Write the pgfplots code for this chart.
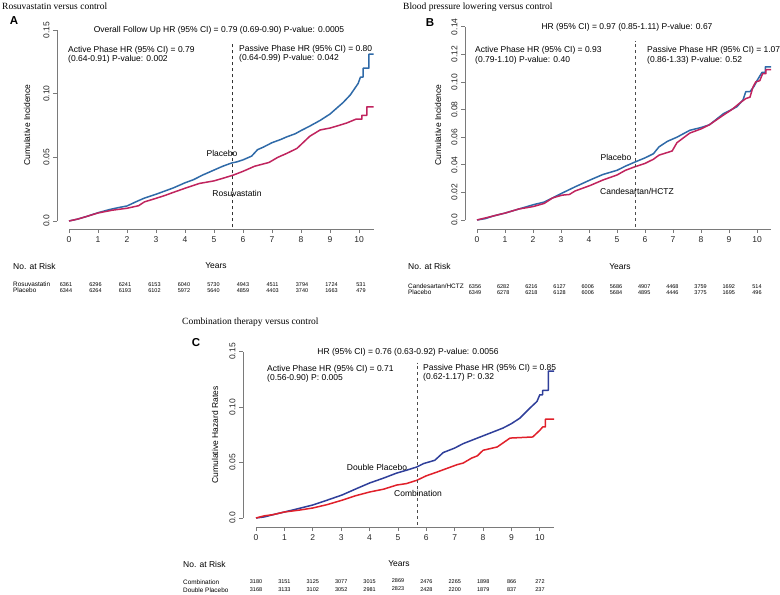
\documentclass[border=0pt]{standalone}
\usepackage{fontspec}
\setmainfont{Liberation Sans}
\newfontfamily\seriffont{Liberation Serif}
\usepackage{pgfplots}
\pgfplotsset{compat=1.18}
\definecolor{ablue}{HTML}{2F6AA8}
\definecolor{ared}{HTML}{C0245E}
\definecolor{cblue}{HTML}{2F3F9A}
\definecolor{cred}{HTML}{E0202A}
\definecolor{axgray}{HTML}{7A7A7A}
\newcommand{\ann}{\fontsize{8.5}{10}\selectfont}
\newcommand{\tabf}{\fontsize{5.5}{6.5}\selectfont}
\newcommand{\tabl}{\fontsize{6.4}{7}\selectfont}
\newcommand{\ttl}{\seriffont\fontsize{9.5}{11}\selectfont}
\pgfplotsset{
  km/.style={
    scale only axis, xmin=0, xmax=10.5, ymin=0,
    axis lines*=left,
    axis line style={axgray, line width=0.7pt},
    tick style={axgray, line width=0.7pt},
    tick align=outside, major tick length=4pt,
    xtick={0,1,...,10},
    ticklabel style={font=\fontsize{8.5}{10}\selectfont, text=black!85},
    /pgf/number format/assume math mode=true,
    yticklabel style={rotate=90, anchor=south},
    clip=false,
  },
  curve/.style={line width=1.5pt, line join=round},
}
\begin{document}
\begin{tikzpicture}[x=1pt,y=1pt]
\useasboundingbox (0,0) rectangle (780,595);
% ---------------- Panel A
\begin{axis}[km, at={(69pt,374pt)}, anchor=south west, width=304.5pt, height=191pt, ymax=0.15,
  ytick={0,0.05,0.10,0.15}, yticklabels={0.0,0.05,0.10,0.15},
  axis x line shift=8pt, axis y line shift=12pt]
\addplot[curve, ablue] coordinates {
(0,0) (0.3,0.0015) (0.6,0.0035) (1.0,0.0065) (1.4,0.009) (1.7,0.0105) (2.0,0.0118) (2.3,0.015) (2.6,0.018) (3.0,0.021) (3.3,0.0235) (3.6,0.026) (4.0,0.030) (4.3,0.0325) (4.6,0.036) (5.0,0.040) (5.3,0.043) (5.6,0.0455) (5.8,0.0465) (6.0,0.048) (6.3,0.051) (6.5,0.056) (6.7,0.058) (7.0,0.0615) (7.3,0.064) (7.5,0.066) (7.8,0.0685) (8.0,0.071) (8.3,0.0745) (8.66,0.079) (9.0,0.084) (9.2,0.088) (9.45,0.093) (9.7,0.099) (9.97,0.108) (10.05,0.113) (10.14,0.113) (10.14,0.120) (10.34,0.120) (10.34,0.131) (10.5,0.131)};
\addplot[curve, ared] coordinates {
(0,0) (0.3,0.0015) (0.6,0.0035) (1.0,0.0063) (1.5,0.0085) (2.0,0.010) (2.4,0.012) (2.6,0.015) (3.0,0.0178) (3.3,0.020) (3.6,0.0225) (4.0,0.0257) (4.5,0.0295) (5.0,0.0315) (5.3,0.0335) (5.66,0.036) (6.0,0.039) (6.4,0.043) (6.9,0.046) (7.2,0.050) (7.5,0.053) (7.86,0.057) (8.0,0.060) (8.3,0.0665) (8.66,0.0715) (9.0,0.073) (9.3,0.075) (9.58,0.077) (9.9,0.080) (10.1,0.080) (10.1,0.083) (10.27,0.083) (10.27,0.0896) (10.5,0.0896)};
\addplot[black!80, dashed, line width=0.6pt] coordinates {(5.62,-0.005) (5.62,0.141)};
\end{axis}
% ---------------- Panel B
\begin{axis}[km, at={(477pt,375pt)}, anchor=south west, width=294pt, height=193.2pt, ymax=0.14,
  ytick={0,0.02,0.04,0.06,0.08,0.10,0.12,0.14}, yticklabels={0.0,0.02,0.04,0.06,0.08,0.10,0.12,0.14},
  axis x line shift=9pt, axis y line shift=12pt]
\addplot[curve, ablue] coordinates {
(0,0) (0.3,0.001) (0.6,0.003) (1.0,0.005) (1.5,0.008) (2.0,0.011) (2.4,0.013) (2.7,0.016) (3.04,0.0195) (3.5,0.024) (4.04,0.029) (4.5,0.033) (5.0,0.036) (5.3,0.039) (5.64,0.042) (6.0,0.045) (6.3,0.048) (6.5,0.053) (6.8,0.057) (7.14,0.060) (7.6,0.065) (8.0,0.067) (8.3,0.069) (8.8,0.077) (9.28,0.082) (9.5,0.087) (9.6,0.093) (9.75,0.093) (9.9,0.097) (10.0,0.101) (10.18,0.107) (10.3,0.107) (10.3,0.111) (10.5,0.111)};
\addplot[curve, ared] coordinates {
(0,0) (0.3,0.0015) (0.6,0.003) (1.0,0.005) (1.5,0.008) (2.0,0.0097) (2.4,0.012) (2.7,0.016) (3.04,0.018) (3.3,0.0185) (3.5,0.021) (4.04,0.025) (4.5,0.029) (5.0,0.0326) (5.3,0.036) (5.64,0.0386) (6.0,0.041) (6.3,0.044) (6.5,0.047) (6.97,0.050) (7.14,0.056) (7.6,0.063) (8.0,0.066) (8.3,0.069) (8.8,0.076) (9.1,0.080) (9.4,0.085) (9.6,0.088) (9.75,0.089) (9.85,0.096) (9.95,0.100) (10.1,0.101) (10.2,0.106) (10.32,0.106) (10.32,0.109) (10.5,0.109)};
\addplot[black!70, dashed, line width=0.6pt] coordinates {(5.64,-0.005) (5.64,0.130)};
\end{axis}
% ---------------- Panel C
\begin{axis}[km, at={(256pt,77pt)}, anchor=south west, width=298pt, height=166.5pt, ymax=0.15,
  ytick={0,0.05,0.10,0.15}, yticklabels={0.0,0.05,0.10,0.15},
  axis x line shift=9pt, axis y line shift=13pt]
\addplot[curve, cblue] coordinates {
(0,0) (0.3,0.001) (0.6,0.003) (1.0,0.0054) (1.5,0.0085) (2.0,0.0117) (2.5,0.016) (3.03,0.0207) (3.5,0.026) (4.0,0.0315) (4.5,0.036) (4.96,0.0405) (5.3,0.043) (5.67,0.046) (5.9,0.049) (6.3,0.052) (6.6,0.059) (7.0,0.063) (7.3,0.067) (7.9,0.073) (8.3,0.077) (8.7,0.081) (9.0,0.085) (9.3,0.090) (9.65,0.099) (9.9,0.105) (10.0,0.111) (10.1,0.111) (10.1,0.115) (10.3,0.115) (10.3,0.1324) (10.5,0.1324)};
\addplot[curve, cred] coordinates {
(0,0) (0.3,0.002) (0.6,0.003) (1.0,0.0054) (1.5,0.007) (2.0,0.009) (2.5,0.012) (3.03,0.016) (3.5,0.020) (4.0,0.0234) (4.5,0.026) (4.96,0.0297) (5.3,0.031) (5.67,0.034) (6.0,0.038) (6.4,0.0416) (7.08,0.048) (7.3,0.0495) (7.6,0.054) (7.8,0.056) (8.0,0.061) (8.5,0.064) (8.95,0.072) (9.75,0.073) (10.0,0.079) (10.1,0.082) (10.2,0.082) (10.2,0.089) (10.5,0.089)};
\addplot[black!70, dashed, line width=0.6pt] coordinates {(5.67,-0.006) (5.67,0.140)};
\end{axis}
% ---------------- Text panel A
\node[anchor=west, inner sep=0] at (2,589) {\ttl Rosuvastatin versus control};
\node[font=\fontsize{11.5}{12}\selectfont\bfseries] at (14,574) {A};
\node[font=\ann] at (219,565) {Overall Follow Up HR (95\% CI) = 0.79 (0.69-0.90) P-value: 0.0005};
\node[font=\ann, anchor=west, inner sep=0] at (68,545) {Active Phase HR (95\% CI) = 0.79};
\node[font=\ann, anchor=west, inner sep=0] at (68,536) {(0.64-0.91) P-value: 0.002};
\node[font=\ann, anchor=west, inner sep=0] at (239,546) {Passive Phase HR (95\% CI) = 0.80};
\node[font=\ann, anchor=west, inner sep=0] at (239,537) {(0.64-0.99) P-value: 0.042};
\node[font=\ann] at (222,442) {Placebo};
\node[font=\ann] at (237,402) {Rosuvastatin};
\node[font=\ann, rotate=90] at (27,470) {Cumulative Incidence};
\node[font=\ann, anchor=west, inner sep=0] at (13,329) {No. at Risk};
\node[font=\ann] at (216,329) {Years};
\node[font=\tabl, anchor=west, inner sep=0] at (13,310.5) {Rosuvastatin};
\node[font=\tabl, anchor=west, inner sep=0] at (13,304.5) {Placebo};
\foreach \v [count=\i from 0] in {6361,6296,6241,6153,6040,5730,4943,4511,3794,1724,531}
  \node[font=\tabf] at ({66+29.5*\i},310.5) {\v};
\foreach \v [count=\i from 0] in {6344,6264,6193,6102,5972,5640,4859,4403,3740,1663,479}
  \node[font=\tabf] at ({66+29.5*\i},304.5) {\v};
% ---------------- Text panel B
\node[anchor=west, inner sep=0] at (403,588) {\ttl Blood pressure lowering versus control};
\node[font=\fontsize{11.5}{12}\selectfont\bfseries] at (430,572) {B};
\node[font=\ann] at (627,568) {HR (95\% CI) = 0.97 (0.85-1.11) P-value: 0.67};
\node[font=\ann, anchor=west, inner sep=0] at (475,545) {Active Phase HR (95\% CI) = 0.93};
\node[font=\ann, anchor=west, inner sep=0] at (475,535) {(0.79-1.10) P-value: 0.40};
\node[font=\ann, anchor=west, inner sep=0] at (647,545) {Passive Phase HR (95\% CI) = 1.07};
\node[font=\ann, anchor=west, inner sep=0] at (647,535) {(0.86-1.33) P-value: 0.52};
\node[font=\ann] at (616,438) {Placebo};
\node[font=\ann] at (637,404) {Candesartan/HCTZ};
\node[font=\ann, rotate=90] at (438,470) {Cumulative Incidence};
\node[font=\ann, anchor=west, inner sep=0] at (408,329) {No. at Risk};
\node[font=\ann] at (620,328) {Years};
\node[font=\tabl, anchor=west, inner sep=0] at (408,308.5) {Candesartan/HCTZ};
\node[font=\tabl, anchor=west, inner sep=0] at (408,302.5) {Placebo};
\foreach \v [count=\i from 0] in {6356,6282,6216,6127,6006,5686,4907,4468,3759,1692,514}
  \node[font=\tabf] at ({475+28.2*\i},308.5) {\v};
\foreach \v [count=\i from 0] in {6349,6278,6218,6128,6006,5684,4895,4446,3775,1695,496}
  \node[font=\tabf] at ({475+28.2*\i},302.5) {\v};
% ---------------- Text panel C
\node[anchor=west, inner sep=0] at (182,273) {\ttl Combination therapy versus control};
\node[font=\fontsize{11.5}{12}\selectfont\bfseries] at (196,252) {C};
\node[font=\ann] at (408,243) {HR (95\% CI) = 0.76 (0.63-0.92) P-value: 0.0056};
\node[font=\ann, anchor=west, inner sep=0] at (267,226) {Active Phase HR (95\% CI) = 0.71};
\node[font=\ann, anchor=west, inner sep=0] at (267,217) {(0.56-0.90) P: 0.005};
\node[font=\ann, anchor=west, inner sep=0] at (423,227) {Passive Phase HR (95\% CI) = 0.85};
\node[font=\ann, anchor=west, inner sep=0] at (423,218) {(0.62-1.17) P: 0.32};
\node[font=\ann] at (377,128) {Double Placebo};
\node[font=\ann] at (418,102) {Combination};
\node[font=\ann, rotate=90] at (215,160) {Cumulative Hazard Rates};
\node[font=\ann, anchor=west, inner sep=0] at (183,31) {No. at Risk};
\node[font=\ann] at (399,31) {Years};
\node[font=\tabl, anchor=west, inner sep=0] at (183,13) {Combination};
\node[font=\tabl, anchor=west, inner sep=0] at (183,5) {Double Placebo};
\foreach \v/\dy [count=\i from 0] in {3180/0,3151/0,3125/0,3077/0,3015/0,2869/1.5,2476/0,2265/0,1898/0,866/0,272/0}
  \node[font=\tabf] at ({256+28.4*\i},{13+\dy}) {\v};
\foreach \v/\dy [count=\i from 0] in {3168/0,3133/0,3102/0,3052/0,2981/0,2823/1.5,2428/0,2200/0,1879/0,837/0,237/0}
  \node[font=\tabf] at ({256+28.4*\i},{5+\dy}) {\v};
\end{tikzpicture}
\end{document}
